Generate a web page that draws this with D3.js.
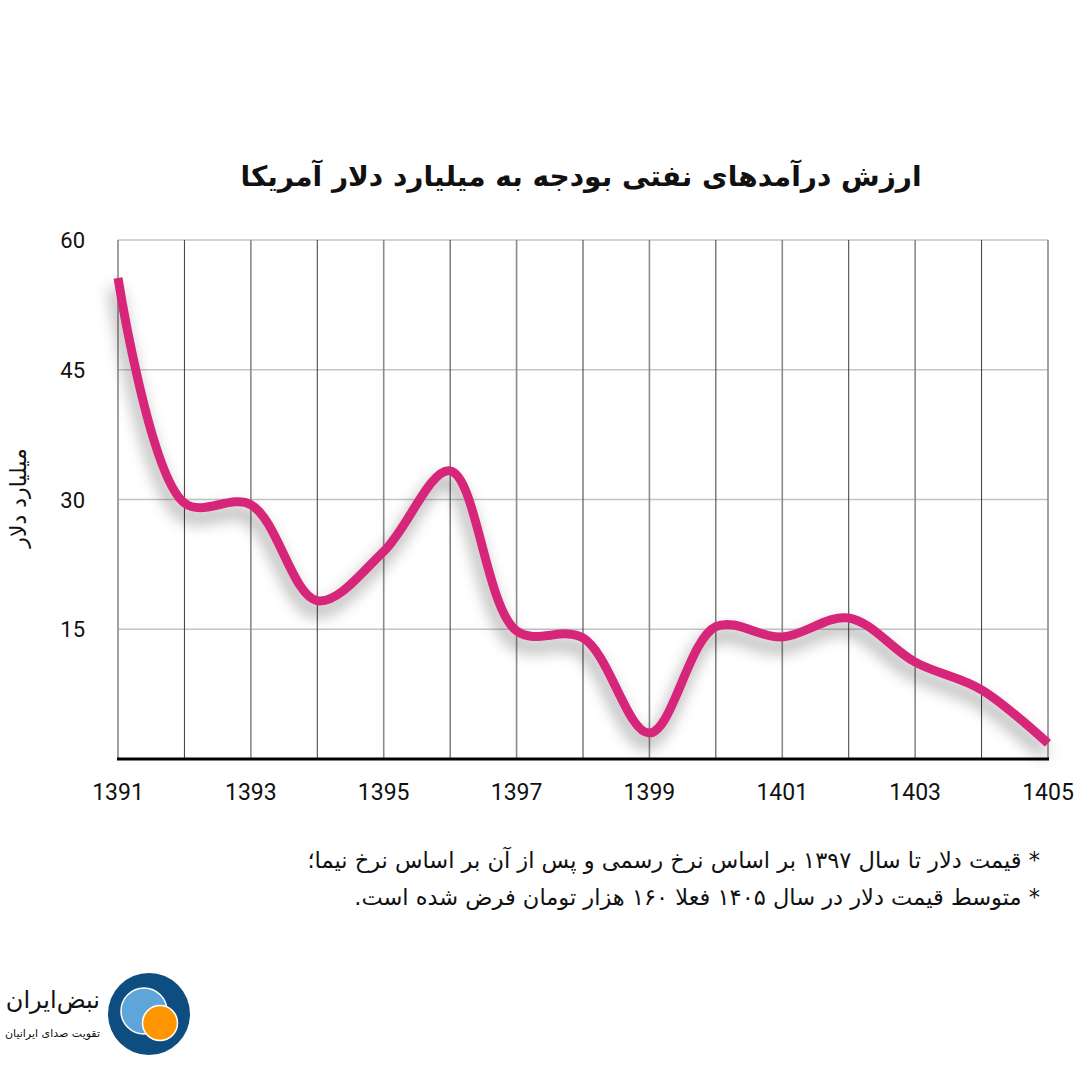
<!DOCTYPE html>
<html><head><meta charset="utf-8">
<script src="https://cdn.jsdelivr.net/npm/d3@7"></script>
<style>html,body{margin:0;padding:0;background:#fff;}svg{display:block;}</style>
</head><body>
<svg id="c" width="1080" height="1080"></svg>
<script>
const years = [1391,1392,1393,1394,1395,1396,1397,1398,1399,1400,1401,1402,1403,1404,1405];
const values = [55.6,29.6,29.4,18.3,24.0,33.3,14.8,14.0,3.0,15.3,14.1,16.3,11.2,8.0,1.8];
const yTicks = [15,30,45,60];
const xTickLabels = [1391,1393,1395,1397,1399,1401,1403,1405];
const title = "ارزش درآمدهای نفتی بودجه به میلیارد دلار آمریکا";
const yTitle = "میلیارد دلار";
const notes = ["* قیمت دلار تا سال ۱۳۹۷ بر اساس نرخ رسمی و پس از آن  بر اساس نرخ نیما؛",
               "* متوسط قیمت دلار در سال ۱۴۰۵ فعلا ۱۶۰ هزار تومان فرض شده است."];
const brand = "نبض‌ایران";
const slogan = "تقویت صدای ایرانیان";

const svg = d3.select("#c");
const x = d3.scaleLinear().domain([1391,1405]).range([118,1048]);
const y = d3.scaleLinear().domain([0,60]).range([759,240]);

const defs = svg.append("defs");
const f = defs.append("filter").attr("id","sh").attr("x","-20%").attr("y","-20%").attr("width","140%").attr("height","150%");
f.append("feDropShadow").attr("dx",-3).attr("dy",10).attr("stdDeviation",8).attr("flood-color","#000").attr("flood-opacity",0.4);

// horizontal grid
svg.append("g").selectAll("line").data(yTicks).join("line")
  .attr("x1",118).attr("x2",1048).attr("y1",d=>y(d)).attr("y2",d=>y(d))
  .attr("stroke","#c4c4c4").attr("stroke-width",1.5);
// vertical grid
svg.append("g").selectAll("line").data(years).join("line")
  .attr("x1",d=>x(d)).attr("x2",d=>x(d)).attr("y1",y(60)).attr("y2",y(0))
  .attr("stroke",(d,i)=> i%2===0 ? "#8a8a8a" : "#3a3a3a")
  .attr("stroke-width",(d,i)=> i%2===0 ? 1.6 : 1);
// x axis baseline
svg.append("line").attr("x1",117).attr("x2",1049).attr("y1",y(0)).attr("y2",y(0))
  .attr("stroke","#000").attr("stroke-width",3);

// y labels
svg.append("g").selectAll("text").data(yTicks).join("text")
  .attr("x",85).attr("y",d=>y(d)+8).attr("text-anchor","end")
  .attr("font-family","Roboto").attr("font-size",22).attr("fill","#111").text(d=>d);
// x labels
svg.append("g").selectAll("text").data(xTickLabels).join("text")
  .attr("x",d=>x(d)).attr("y",800).attr("text-anchor","middle")
  .attr("font-family","Roboto").attr("font-size",23).attr("fill","#111").text(d=>d);

// y title
svg.append("text").attr("transform","translate(26,498) rotate(-90)")
  .attr("text-anchor","middle").attr("font-family","DejaVu Sans").attr("font-size",22)
  .attr("fill","#111").attr("direction","rtl").text(yTitle);

// title
svg.append("text").attr("x",581).attr("y",186).attr("text-anchor","middle")
  .attr("font-family","DejaVu Sans").attr("font-weight","bold").attr("font-size",28)
  .attr("fill","#111").attr("direction","rtl").text(title);

// line
const line = d3.line().x((d,i)=>x(years[i])).y(d=>y(d)).curve(d3.curveCatmullRom.alpha(0.5));
svg.append("path").datum(values).attr("d",line).attr("fill","none")
  .attr("stroke","#d6287a").attr("stroke-width",9).attr("filter","url(#sh)");

// notes
svg.append("g").selectAll("text").data(notes).join("text")
  .attr("x",1040).attr("y",(d,i)=>868+i*37).attr("text-anchor","start")
  .attr("direction","rtl").attr("font-family","DejaVu Sans").attr("font-size",22.5)
  .attr("fill","#111").text(d=>d);

// logo
svg.append("circle").attr("cx",149).attr("cy",1014).attr("r",41).attr("fill","#0d4d80");
svg.append("circle").attr("cx",144).attr("cy",1011).attr("r",23).attr("fill","#5ea5da").attr("stroke","#fff").attr("stroke-width",1.5);
svg.append("circle").attr("cx",160).attr("cy",1023).attr("r",17.5).attr("fill","#ff9500").attr("stroke","#fff").attr("stroke-width",1.5);
svg.append("text").attr("x",100).attr("y",1008).attr("text-anchor","start").attr("direction","rtl")
  .attr("font-family","DejaVu Sans").attr("font-size",24).attr("fill","#111").text(brand);
svg.append("text").attr("x",100).attr("y",1037).attr("text-anchor","start").attr("direction","rtl")
  .attr("font-family","DejaVu Sans").attr("font-size",11).attr("fill","#111").text(slogan);
</script>
</body></html>
